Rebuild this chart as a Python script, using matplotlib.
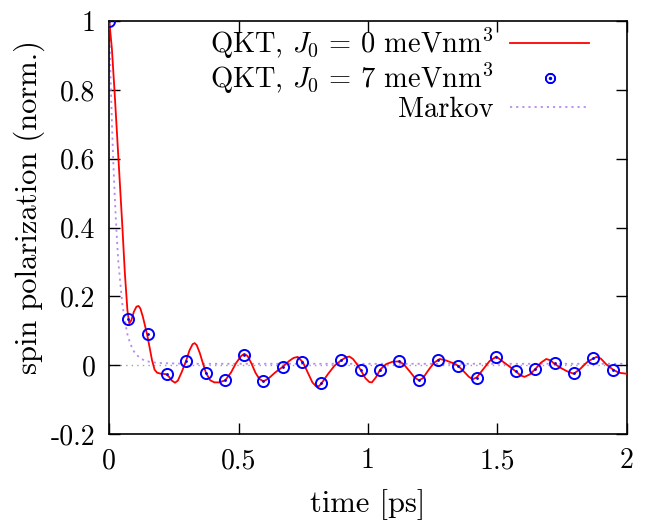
import matplotlib
matplotlib.use("Agg")
import matplotlib.pyplot as plt
from matplotlib.lines import Line2D

plt.rcParams['font.family'] = 'serif'
plt.rcParams['font.serif'] = ['cmr10']
plt.rcParams['mathtext.fontset'] = 'cm'
plt.rcParams['axes.unicode_minus'] = False
plt.rcParams['axes.formatter.use_mathtext'] = True

# QKT, J0 = 0 (continuous line)
t_qkt0 = [0.0, 0.01, 0.02, 0.03, 0.04, 0.05, 0.06, 0.07, 0.077, 0.085, 0.095, 0.105,
          0.113, 0.12, 0.13, 0.138, 0.146, 0.155, 0.165, 0.175, 0.185, 0.2, 0.219, 0.23,
          0.242, 0.254, 0.265, 0.28, 0.297, 0.31, 0.322, 0.33, 0.338, 0.35, 0.362, 0.374,
          0.39, 0.406, 0.425, 0.448, 0.47, 0.49, 0.51, 0.522, 0.535, 0.55, 0.565, 0.58,
          0.596, 0.615, 0.64, 0.67, 0.695, 0.712, 0.728, 0.748, 0.765, 0.785, 0.8, 0.812,
          0.823, 0.845, 0.87, 0.896, 0.915, 0.928, 0.942, 0.958, 0.973, 0.99, 1.005, 1.015,
          1.03, 1.047, 1.07, 1.095, 1.122, 1.14, 1.16, 1.18, 1.197, 1.212, 1.235, 1.255,
          1.277, 1.3, 1.325, 1.347, 1.37, 1.39, 1.405, 1.421, 1.445, 1.47, 1.496, 1.52,
          1.545, 1.571, 1.59, 1.605, 1.625, 1.647, 1.668, 1.689, 1.705, 1.721, 1.745, 1.77,
          1.795, 1.82, 1.85, 1.883, 1.9, 1.92, 1.947, 1.97, 2.0]
v_qkt0 = [1.0, 0.92, 0.80, 0.67, 0.54, 0.41, 0.27, 0.16, 0.122, 0.13, 0.155, 0.170,
          0.172, 0.165, 0.14, 0.115, 0.090, 0.055, 0.015, -0.013, -0.022, -0.025, -0.026, -0.033,
          -0.045, -0.051, -0.045, -0.020, 0.013, 0.043, 0.061, 0.064, 0.058, 0.035, 0.005, -0.023,
          -0.044, -0.050, -0.050, -0.044, -0.022, 0.006, 0.027, 0.033, 0.026, 0.004, -0.022, -0.040,
          -0.047, -0.039, -0.022, -0.005, 0.012, 0.021, 0.024, 0.009, -0.018, -0.050, -0.062, -0.060,
          -0.050, -0.026, -0.002, 0.014, 0.023, 0.025, 0.018, 0.002, -0.016, -0.038, -0.049, -0.050,
          -0.036, -0.013, 0.003, 0.010, 0.011, 0.001, -0.017, -0.036, -0.044, -0.038, -0.013, 0.007,
          0.018, 0.014, 0.007, -0.001, -0.018, -0.034, -0.041, -0.035, -0.012, 0.012, 0.025, 0.011,
          -0.003, -0.018, -0.030, -0.034, -0.027, -0.011, 0.007, 0.018, 0.014, 0.004, -0.008, -0.018,
          -0.025, -0.011, 0.011, 0.024, 0.019, 0.003, -0.013, -0.022, -0.025]

# QKT, J0 = 7 (points)
t_qkt7 = [0.0, 0.073, 0.148, 0.222, 0.297, 0.372, 0.446, 0.521, 0.596, 0.670, 0.746,
          0.820, 0.896, 0.971, 1.046, 1.121, 1.196, 1.271, 1.346, 1.420, 1.495, 1.571,
          1.645, 1.721, 1.795, 1.871, 1.946]
v_qkt7 = [1.0, 0.134, 0.090, -0.025, 0.012, -0.024, -0.044, 0.030, -0.047, -0.006, 0.010,
          -0.051, 0.014, -0.015, -0.015, 0.011, -0.044, 0.015, -0.001, -0.036, 0.025, -0.018,
          -0.011, 0.005, -0.023, 0.020, -0.013]

# Markov
t_mark = [0.0, 0.005, 0.01, 0.015, 0.02, 0.025, 0.03, 0.035, 0.04, 0.05, 0.06, 0.07,
          0.08, 0.09, 0.1, 0.12, 0.14, 0.17, 0.2, 0.25, 0.3, 0.5, 1.0, 1.5, 2.0]
v_mark = [1.0, 0.84, 0.71, 0.60, 0.51, 0.43, 0.36, 0.30, 0.26, 0.18, 0.13, 0.09,
          0.065, 0.047, 0.034, 0.020, 0.012, 0.008, 0.006, 0.005, 0.004, 0.004, 0.004, 0.004, 0.004]

fig = plt.figure(figsize=(6.54, 5.2), dpi=100)
ax = fig.add_axes([0.1671, 0.1654, 0.7912, 0.7942])

ax.axhline(0, color='#a0a0a0', ls=(0, (1, 3)), lw=1.0, zorder=1)
ax.plot(t_mark, v_mark, color='#b48cf2', ls=(0, (1.2, 2.2)), lw=1.3, zorder=2)
ax.plot(t_qkt0, v_qkt0, color='#ff0000', lw=1.3, zorder=3)
ax.plot(t_qkt7, v_qkt7, ls='none', marker='o', ms=8, mfc='none', mec='#0000ff', mew=1.4, zorder=4)
ax.plot(t_qkt7, v_qkt7, ls='none', marker='.', ms=2, color='#0000ff', zorder=4)

ax.set_xlim(0, 2)
ax.set_ylim(-0.2, 1)
ax.set_xticks([0, 0.5, 1, 1.5, 2])
ax.set_xticklabels(['0', '0.5', '1', '1.5', '2'])
ax.set_yticks([-0.2, 0, 0.2, 0.4, 0.6, 0.8, 1])
ax.set_yticklabels(['-0.2', '0', '0.2', '0.4', '0.6', '0.8', '1'])
ax.tick_params(direction='in', length=8, width=1, top=True, right=True, labelsize=20, pad=10)
for s in ax.spines.values():
    s.set_linewidth(1.2)

ax.set_xlabel('time [ps]', fontsize=22, labelpad=11)
ax.set_ylabel('spin polarization (norm.)', fontsize=22, labelpad=4)
ax.yaxis.label.set_y(0.55)

h0 = Line2D([], [], color='#ff0000', lw=1.3)
h7 = Line2D([], [], ls='none', marker='$\\odot$', ms=7, color='#0000ff')
hm = Line2D([], [], color='#b48cf2', ls=(0, (1.2, 2.2)), lw=1.3)
ax.legend([h0, h7, hm],
          ['QKT, $J_0\\,=\\,0$ meVnm$^3$', 'QKT, $J_0\\,=\\,7$ meVnm$^3$', 'Markov'],
          loc='upper right', bbox_to_anchor=(0.965, 1.035), frameon=False, fontsize=20.5,
          markerfirst=False, handlelength=2.75, handletextpad=0.6, labelspacing=0.0,
          borderpad=0.2)

fig.savefig('out.png', dpi=100)
